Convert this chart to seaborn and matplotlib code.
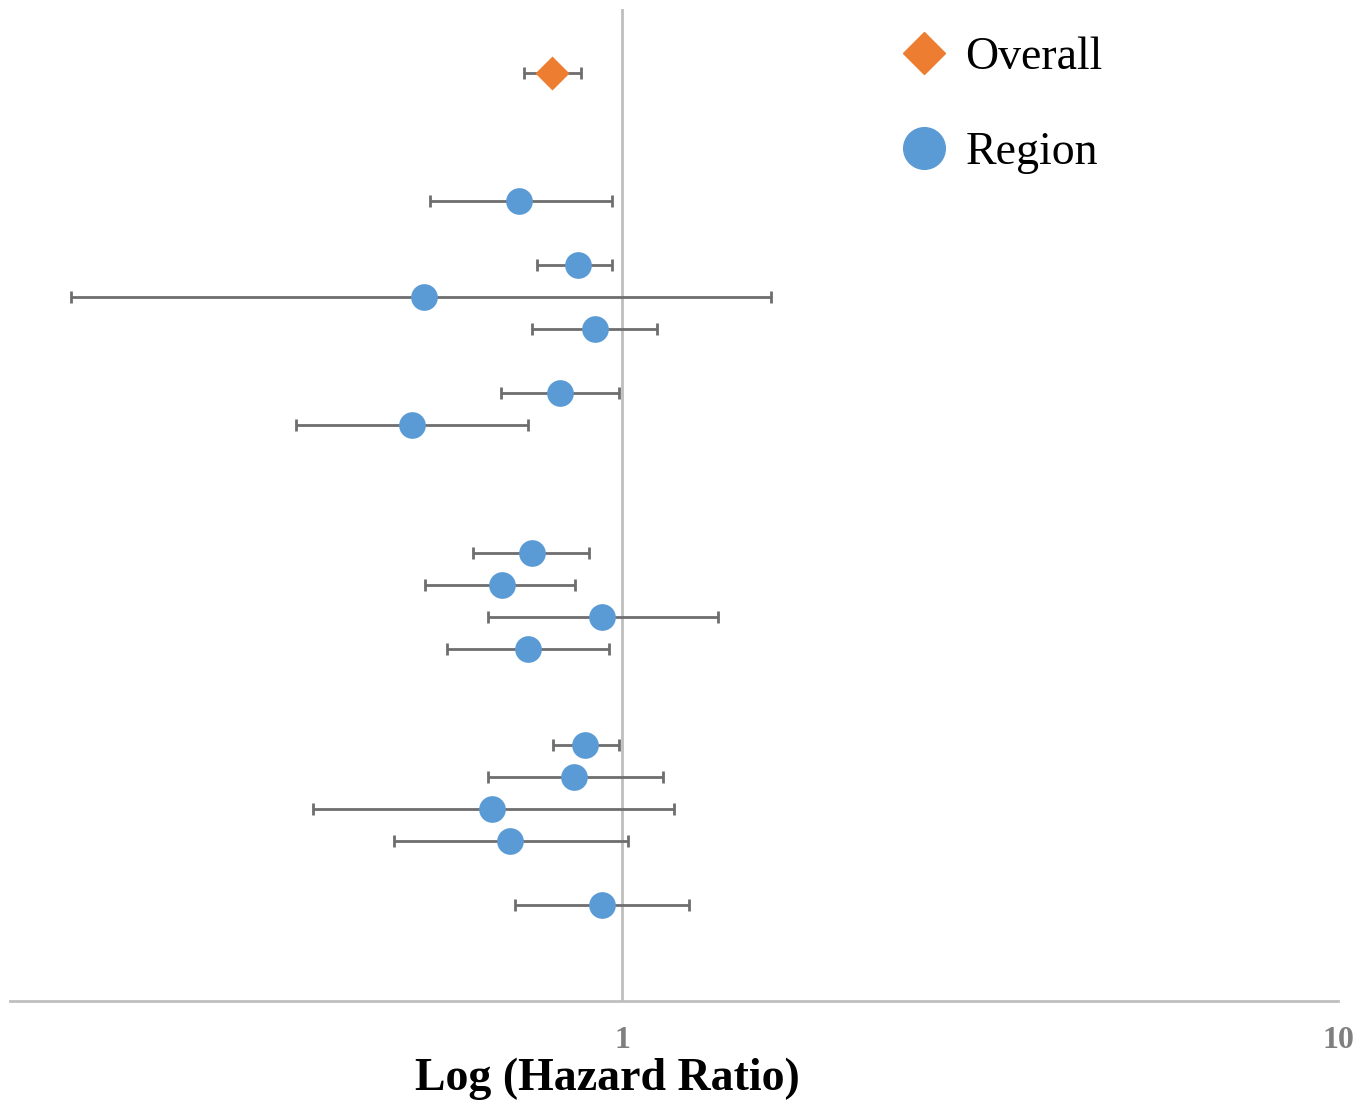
import matplotlib
matplotlib.use("Agg")
import matplotlib.pyplot as plt
from matplotlib.lines import Line2D
import seaborn as sns
import pandas as pd

# Overall estimate
overall_y = [29]
overall_hr = [0.798]
overall_lo = [0.730]
overall_hi = [0.877]

# Region estimates (row position, hazard ratio, 95% CI)
region_y = [25, 23, 22, 21, 19, 18, 14, 13, 12, 11, 8, 7, 6, 5, 3]
region_hr = [0.718, 0.868, 0.529, 0.917, 0.819, 0.509, 0.749, 0.680, 0.938, 0.739,
             0.888, 0.857, 0.658, 0.697, 0.938]
region_lo = [0.539, 0.761, 0.170, 0.749, 0.678, 0.350, 0.619, 0.531, 0.650, 0.569,
             0.801, 0.650, 0.370, 0.480, 0.709]
region_hi = [0.968, 0.968, 1.615, 1.119, 0.990, 0.739, 0.899, 0.860, 1.362, 0.959,
             0.990, 1.141, 1.182, 1.019, 1.240]

ORANGE = "#ED7D31"
BLUE = "#5B9BD5"
GREY = "#6E6E6E"
AXIS_GREY = "#BFBFBF"

sns.set_style("white")
plt.rcParams["font.family"] = ["Liberation Serif", "DejaVu Serif"]

overall = pd.DataFrame({"y": overall_y, "hr": overall_hr, "lo": overall_lo, "hi": overall_hi})
region = pd.DataFrame({"y": region_y, "hr": region_hr, "lo": region_lo, "hi": region_hi})

fig = plt.figure(figsize=(13.69, 11.05), dpi=100)
ax = fig.add_axes([10 / 1369, 1 - 1001 / 1105, 1328 / 1369, 992 / 1105])

ax.set_xscale("log")
ax.set_xlim(0.1397, 10)
ax.set_ylim(0, 31)

# vertical reference line at HR = 1
ax.axvline(1, color=AXIS_GREY, lw=2, zorder=0)

# error bars
for d in (overall, region):
    ax.errorbar(d["hr"], d["y"], xerr=[d["hr"] - d["lo"], d["hi"] - d["hr"]],
                fmt="none", ecolor=GREY, elinewidth=2.0, capsize=4.5,
                capthick=2.0, zorder=1)

# markers
sns.scatterplot(data=region, x="hr", y="y", ax=ax, color=BLUE, marker="o",
                s=370, linewidth=0, zorder=3, legend=False)
sns.scatterplot(data=overall, x="hr", y="y", ax=ax, color=ORANGE, marker="D",
                s=300, linewidth=0, zorder=3, legend=False)

# axes styling
for side in ("top", "right", "left"):
    ax.spines[side].set_visible(False)
ax.spines["bottom"].set_color(AXIS_GREY)
ax.spines["bottom"].set_linewidth(2)
ax.set_yticks([])
ax.set_xticks([1, 10])
ax.set_xticklabels(["1", "10"])
ax.xaxis.set_minor_locator(matplotlib.ticker.NullLocator())
ax.tick_params(axis="x", length=0, pad=18, labelsize=23, labelcolor="#7F7F7F")
for t in ax.get_xticklabels():
    t.set_fontweight("bold")
ax.set_ylabel("")
ax.set_xlabel("Log (Hazard Ratio)", fontsize=33, fontweight="bold", color="black")
ax.xaxis.set_label_coords((607 - 10) / 1328, -0.057)
ax.xaxis.label.set_verticalalignment("top")

handles = [
    Line2D([], [], linestyle="none", marker="D", markersize=21, color=ORANGE, label="Overall"),
    Line2D([], [], linestyle="none", marker="o", markersize=30, color=BLUE, label="Region"),
]
leg = ax.legend(handles=handles, loc="upper left", bbox_to_anchor=(0.647, 1.005),
                frameon=False, fontsize=33, labelspacing=1.16, handlelength=1.0,
                handletextpad=0.4, borderaxespad=0.3)
for t in leg.get_texts():
    t.set_color("black")

fig.savefig("out.png", dpi=100)
